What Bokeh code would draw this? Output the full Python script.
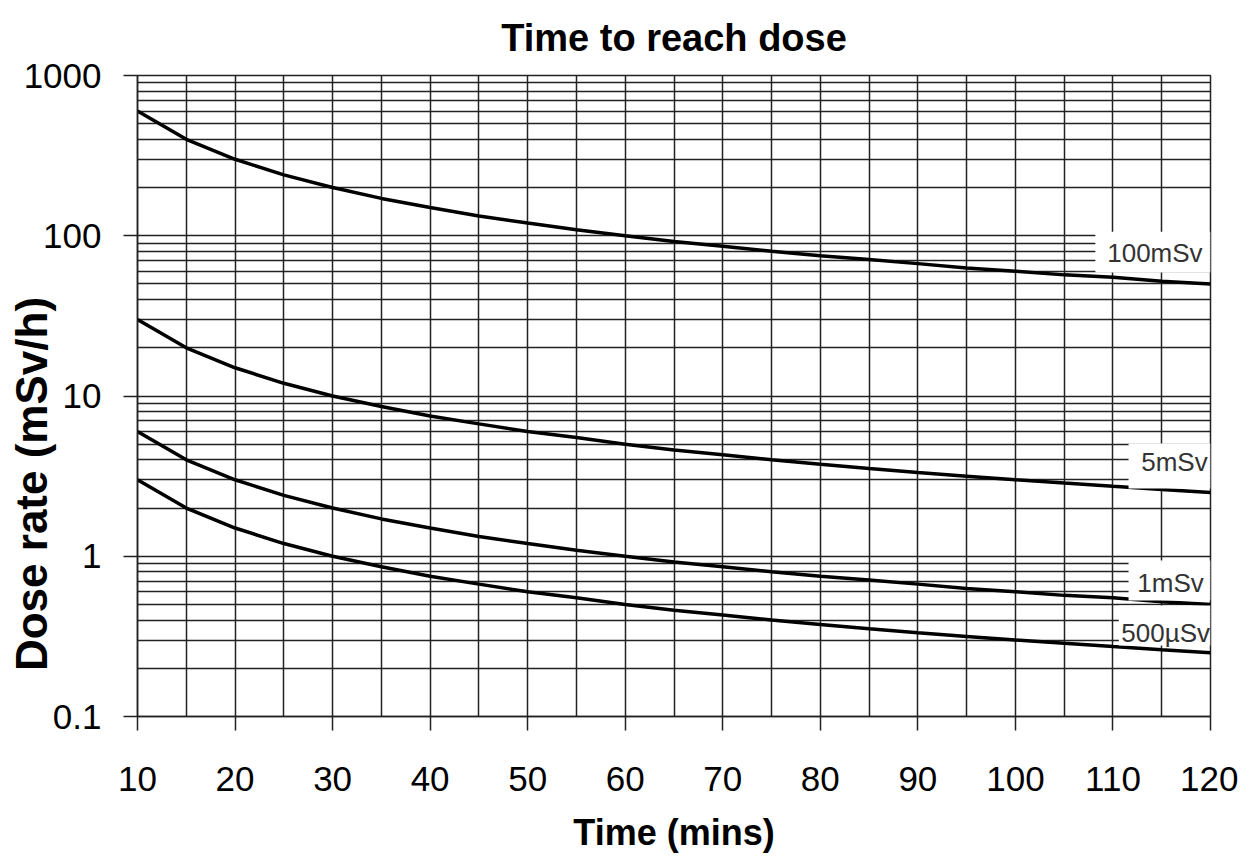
from bokeh.plotting import figure
from bokeh.models import Range1d, FixedTicker
from bokeh.embed import file_html
from bokeh.resources import INLINE
from bokeh.core.properties import value

# ---- data ----
time_mins = [10, 15, 20, 25, 30, 35, 40, 45, 50, 55, 60, 65, 70, 75, 80, 85, 90, 95, 100, 105, 110, 115, 120]
dose_100mSv = [600, 400, 300, 240, 200, 171, 150, 133, 120, 109, 100, 92, 86, 80, 75, 71, 67, 63, 60, 57, 55, 52, 50]
dose_5mSv = [30, 20, 15, 12, 10, 8.6, 7.5, 6.7, 6.0, 5.5, 5.0, 4.6, 4.3, 4.0, 3.75, 3.53, 3.33, 3.16, 3.0, 2.86, 2.73, 2.61, 2.5]
dose_1mSv = [6, 4, 3, 2.4, 2.0, 1.71, 1.5, 1.33, 1.2, 1.09, 1.0, 0.92, 0.86, 0.8, 0.75, 0.71, 0.67, 0.63, 0.6, 0.57, 0.55, 0.52, 0.5]
dose_500uSv = [3, 2, 1.5, 1.2, 1.0, 0.86, 0.75, 0.67, 0.6, 0.55, 0.5, 0.46, 0.43, 0.4, 0.375, 0.353, 0.333, 0.316, 0.3, 0.286, 0.273, 0.261, 0.25]
series = [dose_100mSv, dose_5mSv, dose_1mSv, dose_500uSv]

curve_labels = ["100mSv", "5mSv", "1mSv", "500µSv"]

x_major_ticks = [10, 20, 30, 40, 50, 60, 70, 80, 90, 100, 110, 120]
x_minor_ticks = [15, 25, 35, 45, 55, 65, 75, 85, 95, 105, 115]
y_major_ticks = [0.1, 1, 10, 100, 1000]
y_tick_labels = ["0.1", "1", "10", "100", "1000"]
y_minor_ticks = [m * d for d in [0.1, 1, 10, 100] for m in [2, 3, 4, 5, 6, 7, 8, 9]]

# ---- label box geometry (positions/style, not data) ----
box_left = [108.2, 111.6, 111.6, 110.6]
box_top = [106, 5.05, 0.94, 0.493]
box_bottom = [59, 2.65, 0.53, 0.277]
text_x = [114.3, 116.3, 115.9, 115.4]
text_y = [77.5, 3.85, 0.685, 0.334]

FONT = "Liberation Sans"
GRID = "#222222"

p = figure(width=1238, height=856, y_axis_type="log",
           x_range=Range1d(10, 120), y_range=Range1d(0.1, 1000),
           output_backend="svg", toolbar_location=None,
           min_border_left=137, min_border_right=28, min_border_top=75, min_border_bottom=140,
           title="Time to reach dose")

p.title.align = "center"
p.title.vertical_align = "top"
p.title.text_font = FONT
p.title.text_font_size = "38px"
p.title.text_font_style = "bold"
p.title.text_color = "black"
p.title.standoff = 30

p.outline_line_color = GRID
p.outline_line_width = 1.5
p.background_fill_color = "white"
p.border_fill_color = "white"

# x axis
p.xaxis.ticker = FixedTicker(ticks=x_major_ticks, minor_ticks=x_minor_ticks)
p.xaxis.minor_tick_line_color = None
p.xaxis.major_tick_in = 0
p.xaxis.major_tick_out = 14
p.xaxis.major_tick_line_width = 1.5
p.xaxis.major_tick_line_color = GRID
p.xaxis.axis_line_color = GRID
p.xaxis.axis_line_width = 1.5
p.xaxis.major_label_text_font = FONT
p.xaxis.major_label_text_font_size = "35px"
p.xaxis.major_label_text_color = "black"
p.xaxis.major_label_standoff = 36
p.xaxis.axis_label = "Time (mins)"
p.xaxis.axis_label_text_font = FONT
p.xaxis.axis_label_text_font_size = "36px"
p.xaxis.axis_label_text_font_style = "bold"
p.xaxis.axis_label_text_color = "black"
p.xaxis.axis_label_standoff = 18

# y axis
p.yaxis.ticker = FixedTicker(ticks=y_major_ticks, minor_ticks=y_minor_ticks)
p.yaxis.major_label_overrides = dict(zip(y_major_ticks, y_tick_labels))
p.yaxis.minor_tick_line_color = None
p.yaxis.major_tick_in = 0
p.yaxis.major_tick_out = 14
p.yaxis.major_tick_line_width = 1.5
p.yaxis.major_tick_line_color = GRID
p.yaxis.axis_line_color = GRID
p.yaxis.axis_line_width = 1.5
p.yaxis.major_label_text_font = FONT
p.yaxis.major_label_text_font_size = "35px"
p.yaxis.major_label_text_color = "black"
p.yaxis.major_label_standoff = 22
# the y title sits below the frame centre in the reference: pad its top end with em spaces
p.yaxis.axis_label = "Dose rate (mSv/h)" + "\u2003" * 4
p.yaxis.axis_label_text_font = FONT
p.yaxis.axis_label_text_font_size = "44px"
p.yaxis.axis_label_text_font_style = "bold"
p.yaxis.axis_label_text_color = "black"
p.yaxis.axis_label_standoff = -35

# grids
for g in (p.xgrid, p.ygrid):
    g.grid_line_color = GRID
    g.grid_line_width = 1.5
    g.grid_line_alpha = 1.0
    g.minor_grid_line_color = GRID
    g.minor_grid_line_width = 1.5

# curves
for s in series:
    p.line(time_mins, s, line_color="black", line_width=3.5)

# label boxes
p.quad(left=box_left, right=[120] * 4, top=box_top, bottom=box_bottom,
       fill_color="white", line_color=None)
p.segment(x0=[120] * 4, y0=box_bottom, x1=[120] * 4, y1=box_top,
          line_color="#666666", line_width=1.5, line_dash="1 2")
p.text(x=text_x, y=text_y, text=curve_labels, text_font=value(FONT),
       text_font_size="26px", text_color="#333333",
       text_align="center", text_baseline="middle")

open("out.html", "w").write(file_html(p, INLINE))
